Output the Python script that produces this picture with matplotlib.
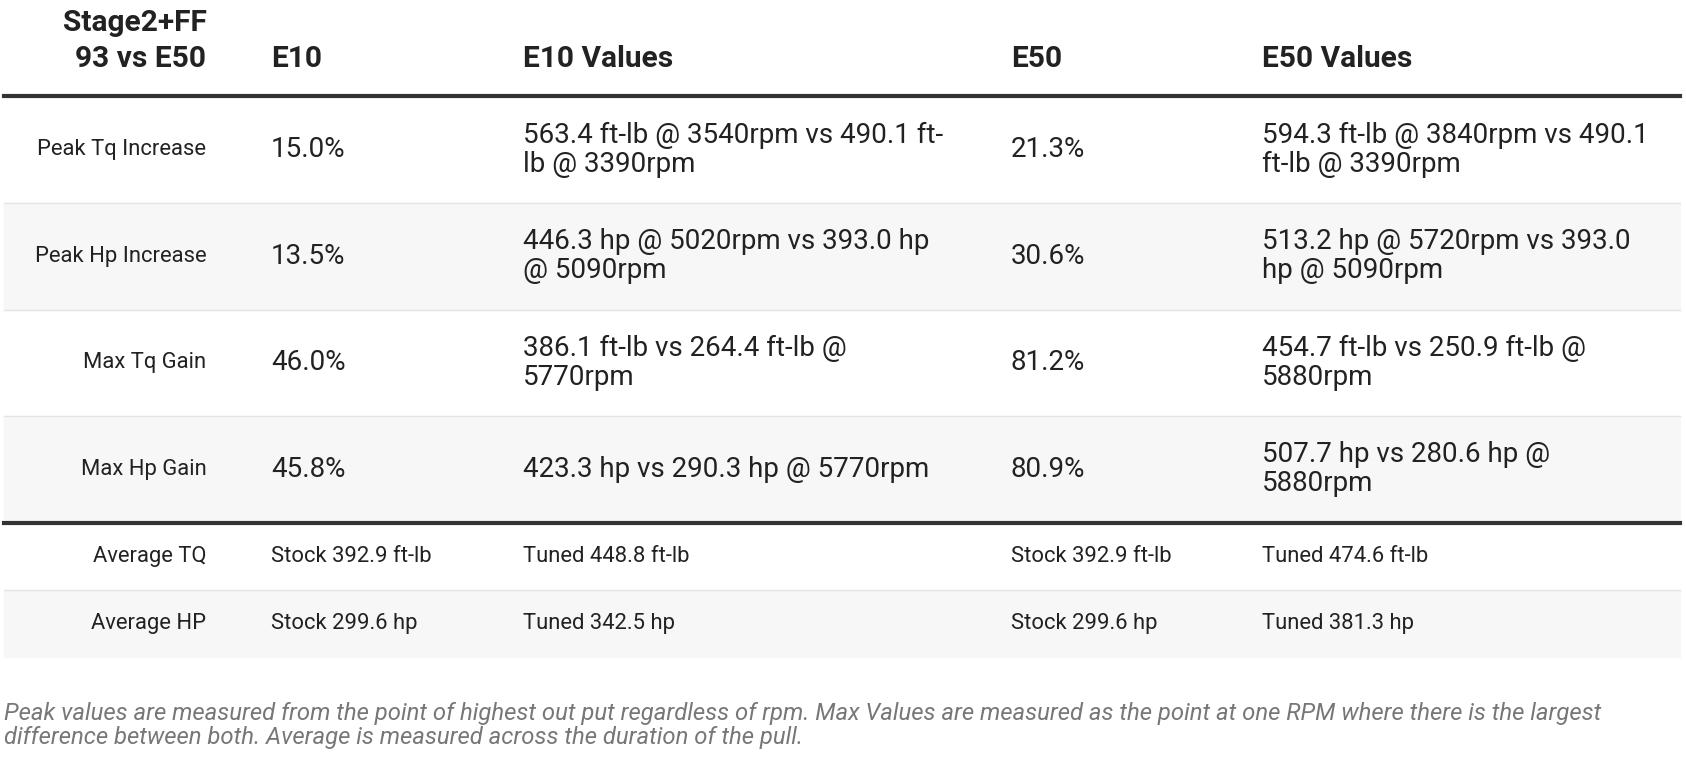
import matplotlib
matplotlib.use("Agg")
import matplotlib.pyplot as plt

plt.rcParams['font.family'] = ['Roboto', 'DejaVu Sans']

header_title = ["Stage2+FF", "93 vs E50"]
columns = ["E10", "E10 Values", "E50", "E50 Values"]
main_labels = ["Peak Tq Increase", "Peak Hp Increase", "Max Tq Gain", "Max Hp Gain"]
main_e10 = ["15.0%", "13.5%", "46.0%", "45.8%"]
main_e10_vals = ["563.4 ft-lb @ 3540rpm vs 490.1 ft-\nlb @ 3390rpm",
                 "446.3 hp @ 5020rpm vs 393.0 hp\n@ 5090rpm",
                 "386.1 ft-lb vs 264.4 ft-lb @\n5770rpm",
                 "423.3 hp vs 290.3 hp @ 5770rpm"]
main_e50 = ["21.3%", "30.6%", "81.2%", "80.9%"]
main_e50_vals = ["594.3 ft-lb @ 3840rpm vs 490.1\nft-lb @ 3390rpm",
                 "513.2 hp @ 5720rpm vs 393.0\nhp @ 5090rpm",
                 "454.7 ft-lb vs 250.9 ft-lb @\n5880rpm",
                 "507.7 hp vs 280.6 hp @\n5880rpm"]
avg_labels = ["Average TQ", "Average HP"]
avg_e10 = ["Stock 392.9 ft-lb", "Stock 299.6 hp"]
avg_e10_vals = ["Tuned 448.8 ft-lb", "Tuned 342.5 hp"]
avg_e50 = ["Stock 392.9 ft-lb", "Stock 299.6 hp"]
avg_e50_vals = ["Tuned 474.6 ft-lb", "Tuned 381.3 hp"]
footnote = ("Peak values are measured from the point of highest out put regardless of rpm. Max Values are measured as the point at one RPM where there is the largest\n"
            "difference between both. Average is measured across the duration of the pull.")

W, H = 1568, 705
fig = plt.figure(figsize=(16.86, 7.58), dpi=100)
ax = fig.add_axes([0, 0, 1, 1])
ax.set_xlim(0, W); ax.set_ylim(H, 0); ax.axis('off')

xl, xs = 4, 1562
lab_x = 192
col_x = [252, 486, 940, 1174]
txt = '#222222'

ax.text(lab_x, 21, header_title[0], ha='right', va='center', fontsize=21.5, fontweight='bold', color=txt)
ax.text(lab_x, 55, header_title[1], ha='right', va='center', fontsize=21.5, fontweight='bold', color=txt)
for x, c in zip(col_x, columns):
    ax.text(x, 55, c, ha='left', va='center', fontsize=21.5, fontweight='bold', color=txt)
ax.plot([xl, xs], [89, 89], color='#333333', lw=3)

top = 90
rh = 99
for i in range(4):
    y0 = top + i * rh
    if i % 2 == 1:
        ax.add_patch(plt.Rectangle((xl, y0), xs - xl, rh, color='#f7f7f7', zorder=0))
    if i > 0:
        ax.plot([xl, xs], [y0, y0], color='#e4e4e4', lw=1)
    cy = y0 + rh / 2
    ax.text(lab_x, cy, main_labels[i], ha='right', va='center', fontsize=15.8, color=txt)
    for x, v in zip(col_x, [main_e10[i], main_e10_vals[i], main_e50[i], main_e50_vals[i]]):
        ax.text(x, cy, v, ha='left', va='center', fontsize=20, color=txt, linespacing=1.1)
ax.plot([xl, xs], [486, 486], color='#333333', lw=3)

top2 = 487
rh2 = 62
for i in range(2):
    y0 = top2 + i * rh2
    if i % 2 == 1:
        ax.add_patch(plt.Rectangle((xl, y0), xs - xl, rh2, color='#f7f7f7', zorder=0))
        ax.plot([xl, xs], [y0, y0], color='#e4e4e4', lw=1)
    cy = y0 + rh2 / 2
    ax.text(lab_x, cy, avg_labels[i], ha='right', va='center', fontsize=15.8, color=txt)
    for x, v in zip(col_x, [avg_e10[i], avg_e10_vals[i], avg_e50[i], avg_e50_vals[i]]):
        ax.text(x, cy, v, ha='left', va='center', fontsize=15.8, color=txt)

ax.text(4, 675, footnote, ha='left', va='center', fontsize=17.2, style='italic', color='#777777', linespacing=1.05)

fig.savefig('out.png', dpi=100)
